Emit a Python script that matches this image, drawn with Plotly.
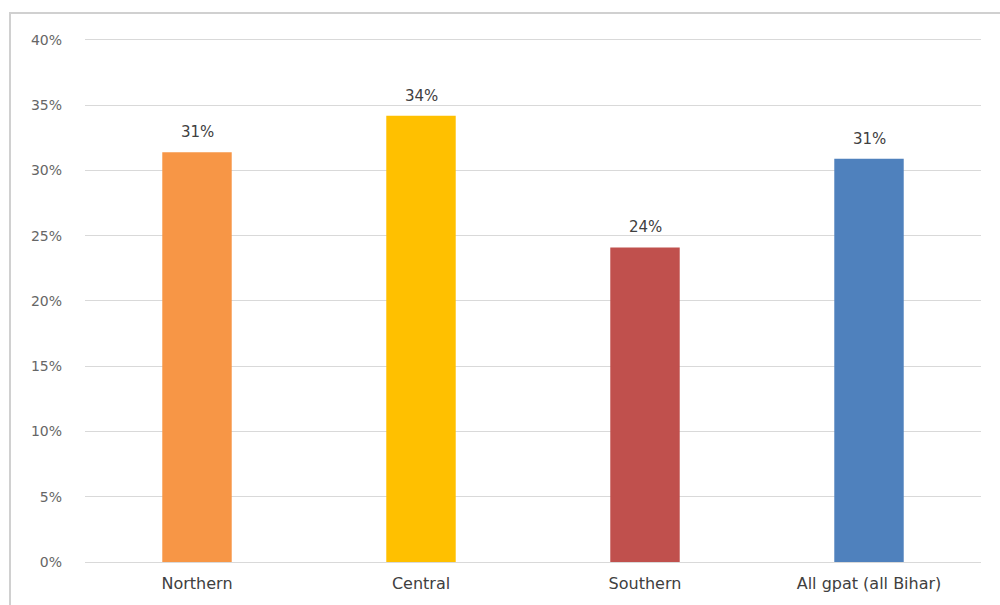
import plotly.graph_objects as go

# Share by zone
regions = ["Northern", "Central", "Southern", "All gpat (all Bihar)"]
shares = [0.314, 0.342, 0.241, 0.309]
bar_colors = ["#F79646", "#FFC000", "#C0504D", "#4F81BD"]
y_ticks = [0, 0.05, 0.10, 0.15, 0.20, 0.25, 0.30, 0.35, 0.40]

base_family = "DejaVu Sans, Verdana, sans-serif"
label_font = dict(family=base_family, size=15, color="#404040")

fig = go.Figure(
    go.Bar(
        x=regions,
        y=shares,
        marker=dict(color=bar_colors, line=dict(width=0)),
        width=0.31,
    )
)

# Value labels above each bar
for region, share in zip(regions, shares):
    fig.add_annotation(
        x=region,
        y=share,
        text=f"{share:.0%}",
        showarrow=False,
        yanchor="bottom",
        yshift=9,
        font=label_font,
    )

fig.update_layout(
    width=1000,
    height=605,
    margin=dict(l=85, r=19, t=38, b=43),
    paper_bgcolor="white",
    plot_bgcolor="white",
    showlegend=False,
    font=dict(family=base_family, color="#595959"),
    xaxis=dict(
        showgrid=False,
        showline=False,
        ticks="",
        ticklabelstandoff=10,
        tickfont=dict(size=16, color="#404040"),
    ),
    yaxis=dict(
        range=[0, 0.4015],
        tickvals=y_ticks,
        tickformat=".0%",
        showgrid=True,
        gridcolor="#D9D9D9",
        gridwidth=1,
        zeroline=True,
        zerolinecolor="#D9D9D9",
        zerolinewidth=1,
        showline=False,
        ticks="",
        ticklabelstandoff=22,
        tickfont=dict(size=14, color="#666666"),
    ),
    shapes=[
        dict(
            type="rect",
            xref="paper",
            yref="paper",
            x0=-0.0837,
            x1=1.03,
            y0=-0.1,
            y1=1.0476,
            line=dict(color="#D0D0D0", width=2),
            fillcolor="rgba(0,0,0,0)",
            layer="below",
        )
    ],
)

fig.write_html("out.html")
